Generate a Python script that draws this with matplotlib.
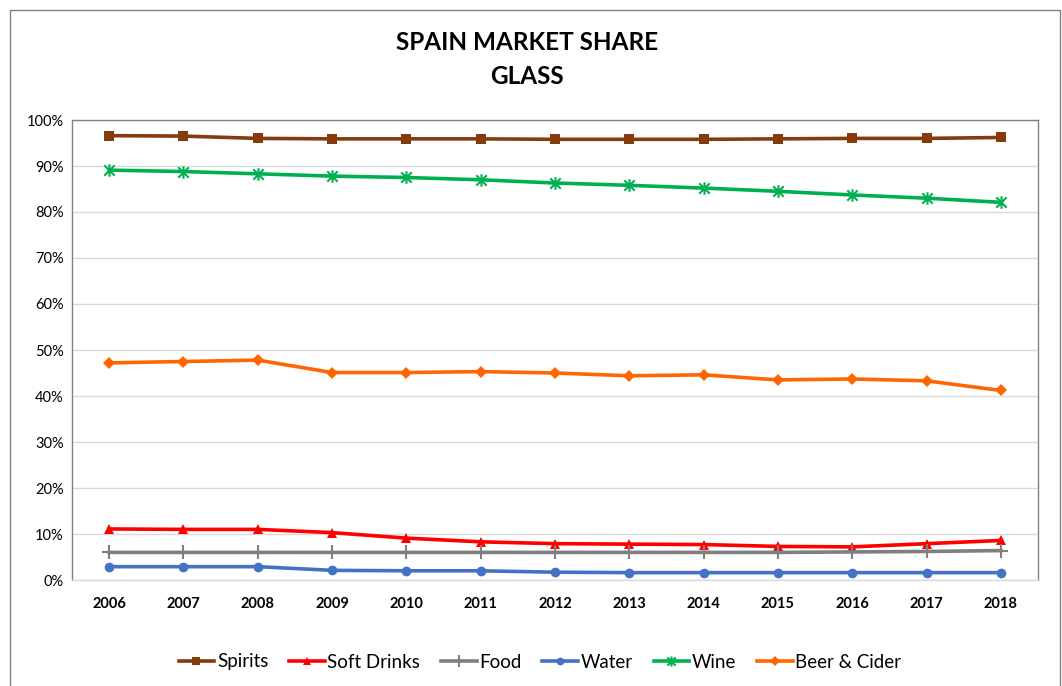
import matplotlib
matplotlib.use("Agg")
import matplotlib.pyplot as plt
from matplotlib.patches import Rectangle
from matplotlib.path import Path
from matplotlib.ticker import PercentFormatter

plt.rcParams['font.family'] = ['Lato', 'DejaVu Sans']

years = [str(y) for y in range(2006, 2019)]
spirits = [96.6, 96.5, 96.0, 95.9, 95.9, 95.9, 95.8, 95.8, 95.8, 95.9, 96.0, 96.0, 96.2]
soft_drinks = [11.1, 11.0, 11.0, 10.3, 9.1, 8.3, 7.9, 7.8, 7.7, 7.3, 7.2, 7.9, 8.6]
food = [6.0, 6.0, 6.0, 6.0, 6.0, 6.0, 6.0, 6.0, 6.0, 6.0, 6.1, 6.2, 6.4]
water = [2.9, 2.9, 2.9, 2.1, 2.0, 2.0, 1.7, 1.6, 1.6, 1.6, 1.6, 1.6, 1.6]
wine = [89.1, 88.8, 88.3, 87.8, 87.5, 87.0, 86.3, 85.8, 85.2, 84.5, 83.7, 83.0, 82.1]
beer_cider = [47.2, 47.5, 47.8, 45.1, 45.1, 45.3, 45.0, 44.4, 44.6, 43.5, 43.7, 43.3, 41.2]

# asterisk marker: an "x" crossed by a vertical bar
star = Path([(-1, -1), (1, 1), (-1, 1), (1, -1), (0, -1.2), (0, 1.2)],
            [Path.MOVETO, Path.LINETO, Path.MOVETO, Path.LINETO, Path.MOVETO, Path.LINETO])

series = [
    ("Spirits", spirits, "#843C0C", "s", 7),
    ("Soft Drinks", soft_drinks, "#FF0000", "^", 7),
    ("Food", food, "#7F7F7F", "+", 10),
    ("Water", water, "#4472C4", "o", 7),
    ("Wine", wine, "#00B050", star, 9),
    ("Beer & Cider", beer_cider, "#FF6600", "D", 6),
]

fig = plt.figure(figsize=(10.62, 6.86), dpi=100)
ax = fig.add_axes([72 / 1062, 1 - 580 / 686, (1038 - 72) / 1062, (580 - 120) / 686])

x = list(range(len(years)))
for name, vals, color, marker, ms in series:
    stroked = marker is star or marker == "+"
    ax.plot(x, vals, color=color, lw=2.6, marker=marker, markersize=ms,
            markerfacecolor=color, markeredgecolor=color, label=name,
            markeredgewidth=1.5 if stroked else 0)

ax.set_xlim(-0.5, len(years) - 0.5)
ax.set_ylim(0, 100)
ax.set_yticks(range(0, 101, 10))
ax.yaxis.set_major_formatter(PercentFormatter(decimals=0))
ax.set_xticks(x)
ax.set_xticklabels(years, fontweight="bold")
ax.tick_params(axis="both", length=0, labelsize=10.5, colors="#000000")
ax.tick_params(axis="x", pad=12)
ax.tick_params(axis="y", pad=6)
ax.grid(axis="y", color="#D9D9D9", lw=1)
ax.set_axisbelow(True)
for s in ax.spines.values():
    s.set_color("#808080")
    s.set_linewidth(1)
ax.spines["bottom"].set_color("#D9D9D9")

fig.text(527 / 1062, 1 - 43 / 686, "SPAIN MARKET SHARE", ha="center", va="center",
         fontsize=17.5, fontweight="bold")
fig.text(527 / 1062, 1 - 76 / 686, "GLASS", ha="center", va="center",
         fontsize=17.5, fontweight="bold")

fig.legend(loc="center", bbox_to_anchor=(540 / 1062, 1 - 662 / 686), ncol=6,
           frameon=False, fontsize=13.5, handlelength=1.9, handletextpad=0.15,
           columnspacing=1.1, borderaxespad=0, markerscale=0.8)

fig.patches.append(Rectangle((10 / 1062, -0.01), 1050 / 1062, 1 - 10 / 686 + 0.01,
                             transform=fig.transFigure, fill=False,
                             edgecolor="#808080", lw=1))

fig.savefig("out.png", dpi=100)
